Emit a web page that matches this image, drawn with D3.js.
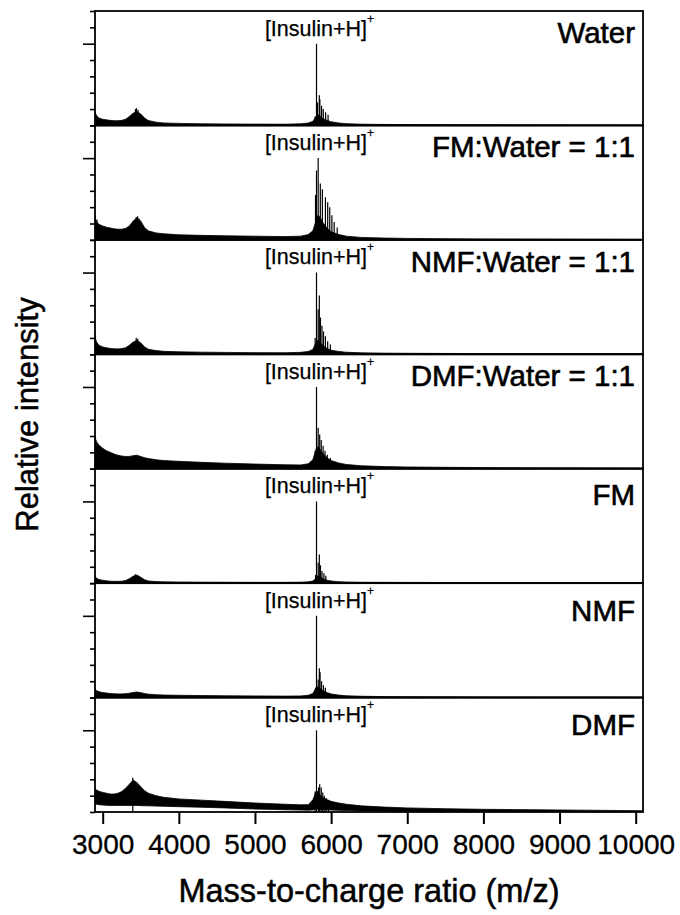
<!DOCTYPE html>
<html>
<head>
<meta charset="utf-8">
<script src="https://cdn.jsdelivr.net/npm/d3@7"></script>
<style>
  body { margin: 0; background: #fff; }
  svg { display: block; font-family: "Liberation Sans", Arial, Helvetica, sans-serif; }
</style>
</head>
<body>
<svg id="chart" width="680" height="915"></svg>
<script>
// ---- Data -------------------------------------------------------------
// m/z sampling points for the spectral envelopes
const mz = [2899, 2920, 2950, 3000, 3050, 3100, 3150, 3200, 3250, 3300, 3350, 3400, 3450, 3500,
            3550, 3600, 3700, 3800, 4000, 4300, 4600, 5000, 5400, 5600, 5700, 5760, 5790, 5810,
            5830, 5860, 5900, 5950, 6000, 6100, 6200, 6400, 6700, 7000, 7500, 8000, 9000, 10096];

// Solvent conditions, top to bottom
const panelLabels = ["Water", "FM:Water = 1:1", "NMF:Water = 1:1", "DMF:Water = 1:1", "FM", "NMF", "DMF"];

// Upper envelope of each spectrum (relative intensity, [Insulin+H]+ = 1)
const waterUpper    = [0.16,0.12,0.09,0.075,0.068,0.062,0.058,0.058,0.062,0.075,0.11,0.15,0.17,0.14,0.09,0.06,0.04,0.03,0.025,0.02,0.018,0.016,0.015,0.02,0.03,0.05,0.09,0.12,0.13,0.11,0.08,0.06,0.045,0.03,0.022,0.015,0.012,0.01,0.008,0.007,0.006,0.005];
const fmWaterUpper  = [0.26,0.22,0.19,0.17,0.155,0.145,0.135,0.13,0.13,0.14,0.17,0.23,0.27,0.23,0.15,0.11,0.085,0.075,0.062,0.055,0.05,0.045,0.04,0.045,0.065,0.11,0.2,0.28,0.3,0.27,0.2,0.14,0.1,0.065,0.045,0.03,0.022,0.018,0.014,0.012,0.01,0.008];
const nmfWaterUpper = [0.2,0.15,0.11,0.09,0.08,0.072,0.067,0.066,0.07,0.08,0.11,0.15,0.17,0.14,0.09,0.062,0.045,0.036,0.03,0.026,0.023,0.02,0.019,0.024,0.035,0.06,0.12,0.16,0.17,0.14,0.1,0.07,0.05,0.035,0.025,0.018,0.014,0.012,0.01,0.009,0.008,0.007];
const dmfWaterUpper = [0.38,0.33,0.29,0.25,0.22,0.2,0.18,0.165,0.155,0.15,0.15,0.16,0.165,0.15,0.135,0.125,0.11,0.1,0.09,0.078,0.068,0.057,0.048,0.046,0.06,0.11,0.2,0.26,0.27,0.23,0.18,0.13,0.1,0.07,0.052,0.036,0.026,0.021,0.017,0.014,0.011,0.01];
const fmUpper       = [0.08,0.06,0.045,0.035,0.028,0.024,0.022,0.022,0.024,0.032,0.055,0.085,0.1,0.072,0.042,0.027,0.019,0.016,0.014,0.012,0.011,0.01,0.01,0.012,0.016,0.026,0.05,0.08,0.09,0.075,0.05,0.035,0.026,0.018,0.014,0.011,0.01,0.009,0.008,0.007,0.006,0.005];
const nmfUpper      = [0.1,0.085,0.072,0.062,0.056,0.05,0.047,0.045,0.045,0.048,0.054,0.063,0.068,0.06,0.05,0.042,0.035,0.031,0.028,0.025,0.022,0.02,0.018,0.02,0.028,0.05,0.1,0.13,0.13,0.11,0.08,0.06,0.045,0.03,0.022,0.016,0.012,0.01,0.009,0.008,0.007,0.006];
const dmfUpper      = [0.28,0.27,0.255,0.24,0.23,0.22,0.22,0.23,0.25,0.29,0.34,0.39,0.36,0.31,0.26,0.23,0.2,0.18,0.16,0.145,0.13,0.11,0.095,0.088,0.09,0.15,0.22,0.26,0.24,0.2,0.17,0.15,0.13,0.11,0.095,0.075,0.06,0.05,0.04,0.033,0.025,0.016];

// Lower envelope (noise floor) where it lifts off the baseline
const dmfLower      = [0.1,0.095,0.09,0.085,0.082,0.08,0.08,0.08,0.08,0.08,0.08,0.08,0.08,0.078,0.076,0.075,0.072,0.07,0.065,0.058,0.05,0.036,0.027,0.024,0.022,0.025,0.03,0.032,0.032,0.03,0.028,0.026,0.024,0.02,0.017,0.013,0.009,0.006,0.003,0.001,0,0];

// Discrete peaks [m/z, relative intensity]
const waterPeaks    = [[3430,0.2],[3445,0.21],[3465,0.19],[5790,0.11],[5808,1.0],[5822,0.28],[5845,0.37],[5852,0.32],[5875,0.24],[5897,0.2],[5928,0.16],[5960,0.13]];
const fmWaterPeaks  = [[2905,0.3],[2925,0.25],[3440,0.28],[3458,0.29],[3475,0.26],[5795,0.55],[5808,0.85],[5830,1.0],[5858,0.69],[5885,0.62],[5925,0.52],[5955,0.46],[5982,0.4],[6010,0.3],[6040,0.22],[6080,0.15]];
const nmfWaterPeaks = [[2905,0.24],[3440,0.2],[3460,0.19],[5790,0.2],[5808,1.0],[5830,0.55],[5845,0.72],[5860,0.45],[5880,0.35],[5900,0.28],[5925,0.22],[5955,0.16],[5990,0.12]];
const dmfWaterPeaks = [[2905,0.4],[5790,0.22],[5808,1.0],[5830,0.5],[5850,0.42],[5870,0.35],[5895,0.28],[5920,0.22],[5950,0.17],[5990,0.13]];
const fmPeaks       = [[3430,0.11],[5795,0.1],[5808,1.0],[5830,0.25],[5845,0.35],[5860,0.22],[5880,0.15],[5905,0.12],[5930,0.09]];
const nmfPeaks      = [[5795,0.12],[5808,1.0],[5830,0.22],[5845,0.36],[5855,0.31],[5875,0.2],[5900,0.15],[5925,0.12]];
const dmfPeaks      = [[3395,0.42],[5790,0.25],[5808,1.0],[5835,0.3],[5850,0.34],[5870,0.3],[5890,0.24],[5910,0.2],[5935,0.17],[5965,0.14]];

const insulinMz = 5808;
const xTicks = [3000, 4000, 5000, 6000, 7000, 8000, 9000, 10000];
const xDomain = [2899, 10096];
const yDomain = [0, 1.4];
const yTicks = [0, 0.2, 0.4, 0.6, 0.8, 1.0, 1.2, 1.4];
const yMajor = 1.0;

const uppers = [waterUpper, fmWaterUpper, nmfWaterUpper, dmfWaterUpper, fmUpper, nmfUpper, dmfUpper];
const lowers = [null, null, null, null, null, null, dmfLower];
const peaks  = [waterPeaks, fmWaterPeaks, nmfWaterPeaks, dmfWaterPeaks, fmPeaks, nmfPeaks, dmfPeaks];

// ---- Layout -----------------------------------------------------------
const plot = { left: 95, right: 643, top: 11, bottom: 812 };
const panelH = (plot.bottom - plot.top) / panelLabels.length;
const labelDy = [32, 32, 32.5, 32, 36, 38, 37];
const font = '"Liberation Sans", Arial, Helvetica, sans-serif';

const svg = d3.select("#chart");
const x = d3.scaleLinear().domain(xDomain).range([plot.left, plot.right]);

// slightly heavier text rendering
function ink(sel, w) {
  return sel.attr("fill", "#000").attr("stroke", "#000").attr("stroke-width", w).attr("paint-order", "stroke");
}

panelLabels.forEach((label, i) => {
  const top = plot.top + i * panelH;
  const y = d3.scaleLinear().domain(yDomain).range([top + panelH, top]);
  const g = svg.append("g");

  g.append("clipPath").attr("id", "clip" + i)
    .append("rect")
    .attr("x", plot.left).attr("y", top)
    .attr("width", plot.right - plot.left).attr("height", panelH);

  const body = g.append("g").attr("clip-path", `url(#clip${i})`);
  const upper = uppers[i], lower = lowers[i];

  const area = d3.area()
    .x((d, j) => x(mz[j]))
    .y0((d, j) => y(lower ? lower[j] : 0))
    .y1(d => y(d));

  body.append("path")
    .datum(upper)
    .attr("d", area)
    .attr("fill", "#000")
    .attr("stroke", "#000")
    .attr("stroke-width", 0.8)
    .attr("stroke-linejoin", "round");

  body.selectAll("line.peak")
    .data(peaks[i])
    .join("line")
    .attr("class", "peak")
    .attr("x1", d => x(d[0])).attr("x2", d => x(d[0]))
    .attr("y1", y(0)).attr("y2", d => y(d[1]))
    .attr("stroke", "#000")
    .attr("stroke-width", 1.2);

  // panel frame
  g.append("rect")
    .attr("x", plot.left).attr("y", top)
    .attr("width", plot.right - plot.left).attr("height", panelH)
    .attr("fill", "none").attr("stroke", "#000").attr("stroke-width", 1.8);

  // intensity ticks (unlabelled)
  const ax = g.append("g")
    .attr("transform", `translate(${plot.left},0)`)
    .call(d3.axisLeft(y).tickValues(yTicks).tickSize(5).tickFormat(""));
  ax.select(".domain").remove();
  ax.selectAll(".tick line")
    .attr("stroke", "#000").attr("stroke-width", 1.6)
    .attr("x2", d => d === yMajor ? -12 : -5);

  // condition label
  ink(g.append("text")
    .attr("x", plot.right - 8)
    .attr("y", top + labelDy[i])
    .attr("text-anchor", "end")
    .attr("font-size", 29.5)
    .attr("font-family", font), 0.6)
    .text(label);

  // insulin ion annotation
  const ann = ink(g.append("text")
    .attr("x", x(insulinMz) + 3)
    .attr("y", top + 24.5)
    .attr("text-anchor", "middle")
    .attr("font-size", 21.5)
    .attr("font-family", font), 0.25);
  ann.append("tspan").text("[Insulin+H]");
  ann.append("tspan").attr("font-size", 12).attr("dy", -13).text("+");
});

// m/z axis
const xa = svg.append("g")
  .attr("transform", `translate(0,${plot.bottom})`)
  .call(d3.axisBottom(x).tickValues(xTicks).tickSize(12).tickPadding(10).tickSizeOuter(0).tickFormat(d3.format("d")));
xa.select(".domain").remove();
xa.selectAll(".tick line").attr("stroke", "#000").attr("stroke-width", 2);
ink(xa.selectAll(".tick text")
  .attr("font-size", 28).attr("font-family", font), 0.3);

// axis titles
ink(svg.append("text")
  .attr("x", (plot.left + plot.right) / 2)
  .attr("y", 902)
  .attr("text-anchor", "middle")
  .attr("font-size", 32.5)
  .attr("font-family", font), 0.5)
  .text("Mass-to-charge ratio (m/z)");

ink(svg.append("text")
  .attr("transform", `translate(38,${(plot.top + plot.bottom) / 2 + 3}) rotate(-90)`)
  .attr("text-anchor", "middle")
  .attr("font-size", 31)
  .attr("font-family", font), 0.5)
  .text("Relative intensity");
</script>
</body>
</html>
